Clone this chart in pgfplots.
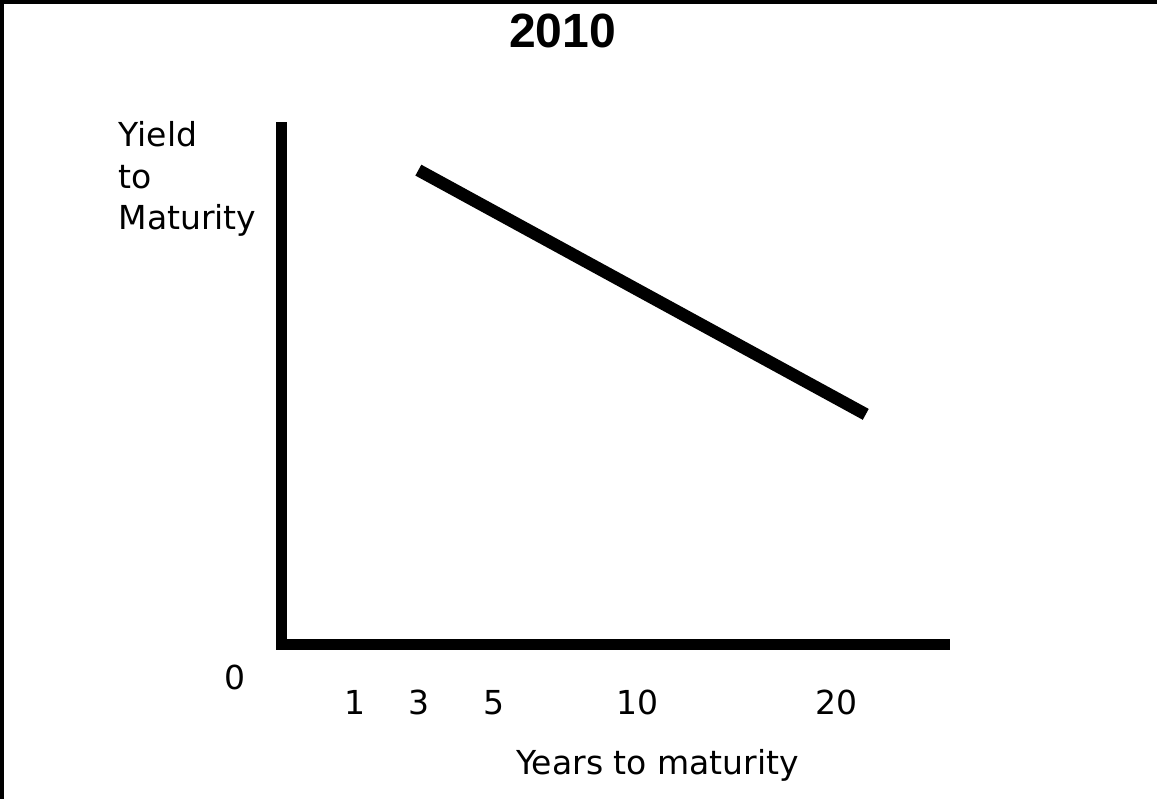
\documentclass[border=0pt]{standalone}
\usepackage{pgfplots}
\pgfplotsset{compat=1.18}
\usepackage{fontspec}
\setmainfont{DejaVu Sans}
\newfontfamily\titlefont{Liberation Sans}
\begin{document}
\begin{tikzpicture}
\begin{axis}[
  scale only axis,
  width=579.5bp, height=400.5bp,
  xmin=0, xmax=1159, ymin=0, ymax=801,
  axis lines=none, ticks=none, clip=false,
]
% outer frame (top and left)
\addplot[black, line width=2bp, line cap=butt] coordinates {(5,0) (5,796) (1159,796)};
% axes drawn as thick L
\addplot[black, line width=5.5bp, line cap=butt] coordinates {(284.5,676) (284.5,149)};
\addplot[black, line width=5.5bp, line cap=butt] coordinates {(279,154) (952,154)};
% yield curve (inverted)
\addplot[black, line width=6.2bp, line cap=butt] coordinates {(421,628) (868,384)};
% texts
\node[anchor=base, font=\titlefont\bfseries\fontsize{24bp}{28bp}\selectfont] at (axis cs:565,751) {2010};
\node[anchor=base west, inner sep=0pt, font=\fontsize{16.5bp}{20bp}\selectfont] at (axis cs:121,652) {Yield};
\node[anchor=base west, inner sep=0pt, font=\fontsize{16.5bp}{20bp}\selectfont] at (axis cs:121,610) {to};
\node[anchor=base west, inner sep=0pt, font=\fontsize{16.5bp}{20bp}\selectfont] at (axis cs:121,569) {Maturity};
\node[anchor=base, inner sep=0pt, font=\fontsize{16.5bp}{20bp}\selectfont] at (axis cs:238,109) {0};
\node[anchor=base, inner sep=0pt, font=\fontsize{16.5bp}{20bp}\selectfont] at (axis cs:358,84) {1};
\node[anchor=base, inner sep=0pt, font=\fontsize{16.5bp}{20bp}\selectfont] at (axis cs:422,84) {3};
\node[anchor=base, inner sep=0pt, font=\fontsize{16.5bp}{20bp}\selectfont] at (axis cs:497,84) {5};
\node[anchor=base, inner sep=0pt, font=\fontsize{16.5bp}{20bp}\selectfont] at (axis cs:640,84) {10};
\node[anchor=base, inner sep=0pt, font=\fontsize{16.5bp}{20bp}\selectfont] at (axis cs:839,84) {20};
\node[anchor=base, inner sep=0pt, font=\fontsize{16.5bp}{20bp}\selectfont] at (axis cs:660,24) {Years to maturity};
\end{axis}
\end{tikzpicture}
\end{document}
